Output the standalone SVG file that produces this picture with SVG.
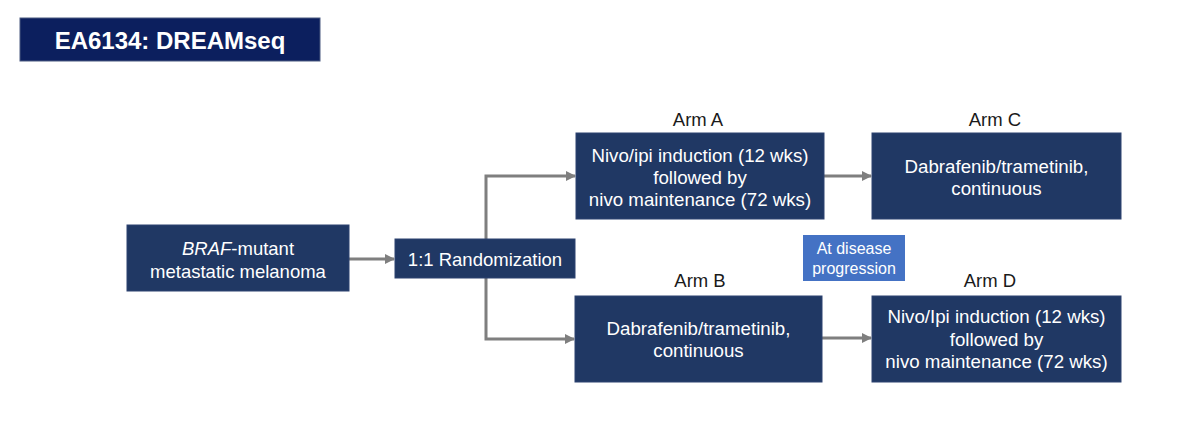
<svg xmlns="http://www.w3.org/2000/svg" width="1200" height="427" viewBox="0 0 1200 427">
<style>
.box{fill:#203864;stroke:#2c4270;stroke-width:1}
.t{font-family:"Liberation Sans",Arial,sans-serif;fill:#fff;text-anchor:middle}
.lbl{font-family:"Liberation Sans",Arial,sans-serif;fill:#1a1a1a;text-anchor:middle;font-size:18.5px}
.c{fill:none;stroke:#7f7f7f;stroke-width:3}
</style>
<defs>
<marker id="ah" markerWidth="10" markerHeight="10" refX="9" refY="5" orient="auto" markerUnits="userSpaceOnUse" viewBox="0 0 10 10">
<path d="M0,0 L10,5 L0,10 z" fill="#7f7f7f"/>
</marker>
</defs>
<rect width="1200" height="427" fill="#fff"/>
<g id="title">
<rect x="20" y="18" width="300" height="43" fill="#0c1f5e" stroke="#4a5a80" stroke-width="1"/>
<text class="t" x="170" y="48.5" font-size="24" font-weight="bold">EA6134: DREAMseq</text>
</g>
<g id="connectors">
<path class="c" d="M349,259 H394" marker-end="url(#ah)"/>
<path class="c" d="M486,239 V176 H575" marker-end="url(#ah)"/>
<path class="c" d="M486,278 V339 H574" marker-end="url(#ah)"/>
<path class="c" d="M824,176 H871" marker-end="url(#ah)"/>
<path class="c" d="M822,338 H871" marker-end="url(#ah)"/>
</g>
<g id="braf">
<rect class="box" x="127" y="225" width="222" height="66"/>
<text class="t" x="238" y="254.5" font-size="18.5"><tspan font-style="italic">BRAF</tspan>-mutant</text>
<text class="t" x="238" y="277.5" font-size="18.5">metastatic melanoma</text>
</g>
<g id="randomization">
<rect class="box" x="395" y="239" width="180" height="39"/>
<text class="t" x="485" y="265.5" font-size="18.5">1:1 Randomization</text>
</g>
<g id="armA">
<text class="lbl" x="698" y="125.5">Arm A</text>
<rect class="box" x="576" y="133" width="248" height="86"/>
<text class="t" x="700" y="161.5" font-size="18.7">Nivo/ipi induction (12 wks)</text>
<text class="t" x="700" y="183.5" font-size="18.7">followed by</text>
<text class="t" x="700" y="205.5" font-size="18.7">nivo maintenance (72 wks)</text>
</g>
<g id="armC">
<text class="lbl" x="995" y="125.5">Arm C</text>
<rect class="box" x="872" y="133" width="249" height="86"/>
<text class="t" x="996.5" y="172.5" font-size="18.7">Dabrafenib/trametinib,</text>
<text class="t" x="996.5" y="195" font-size="18.7">continuous</text>
</g>
<g id="progression">
<rect x="803" y="235" width="102" height="46" fill="#4472c4"/>
<text class="t" x="854" y="254" font-size="16">At disease</text>
<text class="t" x="854" y="274" font-size="16">progression</text>
</g>
<g id="armB">
<text class="lbl" x="700" y="286.5">Arm B</text>
<rect class="box" x="575" y="296" width="247" height="86"/>
<text class="t" x="698.5" y="335" font-size="18.7">Dabrafenib/trametinib,</text>
<text class="t" x="698.5" y="357" font-size="18.7">continuous</text>
</g>
<g id="armD">
<text class="lbl" x="990" y="287">Arm D</text>
<rect class="box" x="872" y="296" width="249" height="86"/>
<text class="t" x="996.5" y="323" font-size="18.7">Nivo/Ipi induction (12 wks)</text>
<text class="t" x="996.5" y="345.5" font-size="18.7">followed by</text>
<text class="t" x="996.5" y="368" font-size="18.7">nivo maintenance (72 wks)</text>
</g>
</svg>
